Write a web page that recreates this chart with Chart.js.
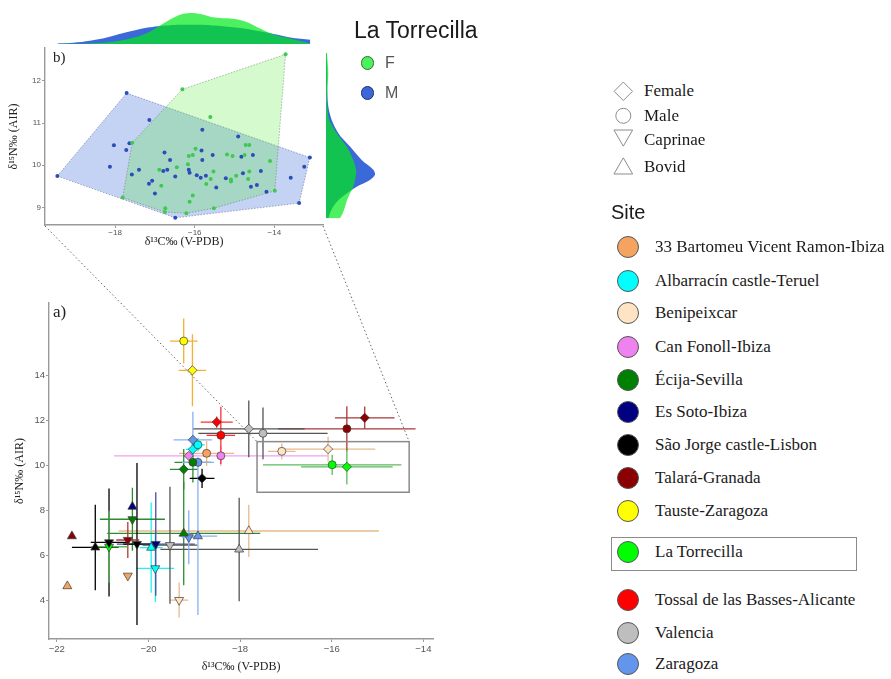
<!DOCTYPE html>
<html>
<head>
<meta charset="utf-8">
<script src="https://cdn.jsdelivr.net/npm/chart.js@4.4.1/dist/chart.umd.min.js"></script>
<style>
  body { margin: 0; width: 891px; height: 679px; background: #fff; position: relative; overflow: hidden; }
  canvas { position: absolute; }
  .txt { position: absolute; white-space: nowrap; line-height: 24px; height: 24px; }
  .serif { font-family: "Liberation Serif", "Times New Roman", serif; color: #1a1a1a; font-size: 17px; }
  .sans { font-family: "Liberation Sans", Arial, sans-serif; color: #1a1a1a; }
  .dot { position: absolute; border-radius: 50%; box-sizing: border-box; }
</style>
</head>
<body>
<canvas id="densTop" width="330" height="46" style="left:0;top:0"></canvas>
<canvas id="inset" width="330" height="222" style="left:0;top:40px"></canvas>
<canvas id="densRight" width="60" height="222" style="left:323px;top:40px"></canvas>
<canvas id="main" width="445" height="454" style="left:0;top:225px"></canvas>
<canvas id="shapeKey" width="40" height="110" style="left:603px;top:75px"></canvas>
<div id="legend"></div>
<script>
// ---- panneau a) : moyennes par site ----
const sites = ['33 Bartomeu Vicent Ramon-Ibiza', 'Albarracín castle-Teruel', 'Benipeixcar', 'Can Fonoll-Ibiza',
  'Écija-Sevilla', 'Es Soto-Ibiza', 'São Jorge castle-Lisbon', 'Talará-Granada', 'Tauste-Zaragoza',
  'La Torrecilla', 'Tossal de las Basses-Alicante', 'Valencia', 'Zaragoza'];
const siteColors = ['#F4A460', '#00FFFF', '#FFE4C4', '#EE82EE', '#008000', '#000080', '#000000',
  '#8B0000', '#FFFF00', '#00FF00', '#FF0000', '#BEBEBE', '#6495ED'];
const errColors = ['#F4B183', '#22F0F0', '#E8B98C', '#F0A0F0', '#2E8B2E', '#4A4AA0', '#000000',
  '#A83838', '#F2B035', '#5DBB5D', '#FF3030', '#555555', '#8AB0F0'];

// F = femme, M = homme, C = caprinés, B = bovidés
const pointSite = [0, 0, 0, 1, 1, 1, 1, 2, 2, 2, 2, 3, 3, 4, 4, 4, 4, 5, 5, 6, 6, 6, 6,
  7, 7, 7, 7, 8, 8, 9, 9, 9, 10, 10, 11, 11, 11, 11, 12, 12, 12, 12];
const pointType = ['M', 'B', 'C', 'M', 'F', 'B', 'C', 'M', 'F', 'B', 'C', 'M', 'F', 'F', 'M', 'B', 'C', 'C', 'B', 'F', 'B', 'C', 'C',
  'M', 'F', 'B', 'C', 'M', 'F', 'M', 'F', 'C', 'F', 'M', 'F', 'M', 'C', 'B', 'F', 'M', 'B', 'C'];
const d13C = [-18.73, -21.77, -20.45, -18.92, -19.03, -19.94, -19.85, -17.09, -16.08, -17.81, -19.33, -18.42, -19.12,
  -19.23, -19.03, -19.23, -20.35, -19.84, -20.35, -18.83, -21.16, -20.86, -20.25,
  -15.67, -15.28, -21.67, -20.45, -19.23, -19.04, -15.99, -15.67, -20.86, -18.51, -18.42,
  -17.81, -17.50, -19.53, -18.02, -19.03, -18.92, -18.92, -19.12];
const d15N = [10.52, 4.62, 5.08, 10.90, 10.70, 6.33, 5.41, 10.61, 10.71, 7.07, 4.00, 10.41, 10.41,
  9.81, 10.12, 6.96, 7.59, 6.49, 8.15, 9.41, 6.34, 6.56, 6.49,
  11.61, 12.10, 6.84, 6.67, 15.51, 14.21, 10.01, 9.92, 6.37, 11.91, 11.32,
  11.61, 11.41, 6.44, 6.25, 11.12, 10.12, 6.84, 6.79];
const sdC = [0.60, 0, 0, 0.15, 0.15, 0.25, 0.41, 0.30, 1.03, 2.84, 0.20, 2.33, 0.10,
  0.30, 0.40, 1.67, 0.71, 0.85, 0, 0.27, 0.51, 0.40, 0.30,
  1.50, 0.65, 0, 0.25, 0.30, 0.30, 1.51, 1.00, 0.40, 0.35, 0.31,
  1.22, 1.41, 0.60, 1.72, 0.42, 0.35, 0.42, 0.15];
const sdN = [0.55, 0, 0, 0.30, 0.20, 2.00, 1.50, 0.35, 0.55, 1.16, 0.78, 0.45, 0.10,
  0.90, 0.90, 2.30, 1.40, 2.30, 0, 0.43, 1.90, 2.40, 3.60,
  1.00, 0.50, 0, 0.80, 1.00, 1.60, 0.45, 0.78, 1.60, 0.25, 1.27,
  1.26, 1.15, 2.60, 2.30, 1.25, 0.20, 3.50, 1.20];
const mainXTicks = [-22, -20, -18, -16, -14];
const mainYTicks = [4, 6, 8, 10, 12, 14];
// rectangle du zoom sur La Torrecilla
const zoomBoxC = [-17.63, -14.31];
const zoomBoxN = [8.79, 11.04];

// ---- panneau b) : La Torrecilla, individus ----
const maleC = [-19.45, -17.71, -17.14, -18.03, -17.64, -17.72, -18.13, -17.58, -17.40, -16.76, -16.62, -16.79, -16.69, -17.07,
  -17.15, -17.00, -16.49, -16.15, -16.13, -15.95, -15.85, -15.72, -15.81, -15.83, -15.81, -15.55, -15.46, -15.22,
  -14.91, -14.83, -14.79, -14.54, -14.59, -14.44, -14.34, -14.20, -13.59, -13.25, -13.11, -13.38, -16.49];
const maleN = [9.74, 11.71, 11.07, 10.47, 10.52, 10.36, 9.96, 9.78, 9.89, 10.30, 10.12, 9.86, 9.89, 9.63,
  9.56, 9.33, 9.73, 9.89, 9.82, 9.76, 9.70, 9.75, 10.84, 10.35, 10.12, 10.24, 9.47, 9.69,
  10.68, 10.20, 9.81, 10.24, 9.49, 9.53, 9.86, 9.37, 9.70, 9.96, 10.18, 9.10, 8.75];
const femaleC = [-13.72, -16.31, -15.61, -17.57, -15.98, -16.15, -16.05, -16.17, -16.45, -16.89, -16.84, -16.05, -16.13,
  -16.74, -16.75, -16.21, -17.81, -15.52, -15.53, -15.60, -15.71, -15.19, -15.05, -15.09, -15.09, -14.96,
  -14.72, -14.63, -14.75, -14.63, -14.66, -14.11, -13.99];
const femaleN = [12.63, 11.80, 11.14, 10.53, 10.39, 10.22, 10.24, 10.02, 9.95, 9.89, 9.51, 9.28, 9.13,
  8.98, 8.89, 8.86, 9.23, 8.98, 9.85, 9.67, 9.55, 10.25, 10.22, 9.66, 9.61, 9.75,
  10.48, 10.48, 10.24, 9.85, 9.67, 10.10, 9.39];
const maleHull = [0, 1, 38, 39, 40];
const femaleHull = [1, 0, 32, 17, 15, 14, 16, 3];
const insetXTicks = [-18, -16, -14];
const insetYTicks = [9, 10, 11, 12];

// densités marginales
const densCgrid = [-19.45, -19.05, -18.63, -18.21, -17.79, -17.37, -17.12, -16.87, -16.62, -16.37, -16.12,
  -15.86, -15.61, -15.36, -15.11, -14.86, -14.61, -14.36, -14.02, -13.60, -13.10];
const densC_M = [0.006, 0.013, 0.033, 0.066, 0.11, 0.15, 0.167, 0.18, 0.188, 0.193, 0.193,
  0.193, 0.188, 0.18, 0.17, 0.16, 0.146, 0.127, 0.10, 0.066, 0.043];
const densC_F = [0, 0.002, 0.006, 0.015, 0.04, 0.083, 0.125, 0.185, 0.245, 0.293, 0.31,
  0.30, 0.273, 0.26, 0.255, 0.24, 0.206, 0.155, 0.095, 0.055, 0.006];
const densNgrid = [12.66, 12.18, 11.79, 11.39, 11.07, 10.76, 10.44, 10.12, 9.89, 9.77, 9.65,
  9.49, 9.33, 9.17, 9.01, 8.86, 8.74];
const densN_M = [0.005, 0.013, 0.013, 0.023, 0.057, 0.123, 0.24, 0.357, 0.473, 0.49, 0.44,
  0.307, 0.207, 0.123, 0.07, 0.04, 0.025];
const densN_F = [0.01, 0.023, 0.013, 0.013, 0.033, 0.107, 0.207, 0.273, 0.30, 0.30, 0.29,
  0.273, 0.24, 0.21, 0.19, 0.167, 0.14];

// ---- réglages communs ----
Chart.defaults.animation = false;
Chart.defaults.plugins.legend.display = false;
Chart.defaults.plugins.tooltip.enabled = false;
const axisGrey = '#9a9a9a';
const fmt = v => (v < 0 ? '\u2212' + Math.abs(v) : String(v));

function axis(min, max, tickVals, size, title, fitProp, fitVal, titlePad, tickPad) {
  return {
    type: 'linear', min: min, max: max,
    afterBuildTicks: s => { s.ticks = tickVals.map(v => ({ value: v })); },
    afterFit: s => { s[fitProp] = fitVal; },
    grid: { display: true, drawOnChartArea: false, drawTicks: true, tickLength: 3, color: axisGrey, lineWidth: 1 },
    border: { display: true, color: axisGrey, width: 1.4 },
    ticks: { color: '#555', font: { family: 'Liberation Sans', size: size }, padding: tickPad,
      autoSkip: false, maxRotation: 0, callback: v => fmt(v) },
    title: { display: true, text: title, color: '#222', font: { family: 'Liberation Serif', size: 12 }, padding: titlePad }
  };
}

// ---- b) encart ----
const toPts = (cs, ns, idx) => idx.map(i => ({ x: cs[i], y: ns[i] }));
const allIdx = a => a.map((_, i) => i);

const insetChart = new Chart(document.getElementById('inset'), {
  type: 'scatter',
  data: {
    datasets: [
      { type: 'line', data: toPts(maleC, maleN, maleHull.concat([maleHull[0]])), fill: 'shape', order: 4,
        backgroundColor: 'rgba(59,106,216,0.3)', borderColor: 'rgba(70,80,130,0.6)', borderWidth: 0.8,
        borderDash: [1.5, 1.5], pointRadius: 0, tension: 0 },
      { type: 'line', data: toPts(femaleC, femaleN, femaleHull.concat([femaleHull[0]])), fill: 'shape', order: 3,
        backgroundColor: 'rgba(60,230,30,0.22)', borderColor: 'rgba(90,110,90,0.6)', borderWidth: 0.8,
        borderDash: [1.5, 1.5], pointRadius: 0, tension: 0 },
      { data: toPts(maleC, maleN, allIdx(maleC)), order: 2, pointRadius: 2, backgroundColor: '#2b4db8', borderWidth: 0 },
      { data: toPts(femaleC, femaleN, allIdx(femaleC)), order: 1, pointRadius: 2, backgroundColor: '#3fc951', borderWidth: 0 }
    ]
  },
  options: {
    responsive: false, devicePixelRatio: 1,
    layout: { padding: { top: 8, right: 7, left: 0, bottom: 0 } },
    scales: {
      x: axis(-19.76, -12.78, insetXTicks, 8, 'δ¹³C‰ (V-PDB)', 'height', 37, { top: 0, bottom: 13 }, 0),
      y: axis(8.58, 12.78, insetYTicks, 8, 'δ¹⁵N‰ (AIR)', 'width', 45, { top: 6.8, bottom: 0 }, 1)
    }
  },
  plugins: [{
    id: 'panelB',
    afterDraw(chart) {
      const { ctx, chartArea } = chart;
      ctx.save();
      ctx.font = '15px "Liberation Serif"';
      ctx.fillStyle = '#222';
      ctx.textBaseline = 'middle';
      ctx.fillText('b)', chartArea.left + 8, chartArea.top + 10);
      ctx.restore();
    }
  }]
});

// densité en haut (δ13C)
new Chart(document.getElementById('densTop'), {
  type: 'line',
  data: {
    datasets: [
      { data: densCgrid.map((c, i) => ({ x: c, y: densC_M[i] })), fill: 'origin', order: 2,
        backgroundColor: '#3c69d8', borderWidth: 0, pointRadius: 0, tension: 0.3 },
      { data: densCgrid.map((c, i) => ({ x: c, y: densC_F[i] })), fill: 'origin', order: 1,
        backgroundColor: 'rgba(2,233,25,0.7)', borderWidth: 0, pointRadius: 0, tension: 0.3 }
    ]
  },
  options: {
    responsive: false, devicePixelRatio: 1,
    layout: { padding: { top: 10, right: 7, left: 45, bottom: 2 } },
    scales: {
      x: { type: 'linear', min: -19.76, max: -12.78, display: false },
      y: { type: 'linear', min: 0, max: 0.34, display: false }
    }
  }
});

// densité à droite (δ15N)
new Chart(document.getElementById('densRight'), {
  type: 'line',
  data: {
    datasets: [
      { data: densNgrid.map((n, i) => ({ x: densN_M[i], y: n })), fill: 'origin', order: 2,
        backgroundColor: '#3c69d8', borderWidth: 0, pointRadius: 0, tension: 0.3 },
      { data: densNgrid.map((n, i) => ({ x: densN_F[i], y: n })), fill: 'origin', order: 1,
        backgroundColor: 'rgba(2,233,25,0.7)', borderWidth: 0, pointRadius: 0, tension: 0.3 }
    ]
  },
  options: {
    indexAxis: 'y',
    responsive: false, devicePixelRatio: 1,
    layout: { padding: { top: 8, right: 0, left: 3, bottom: 37 } },
    scales: {
      x: { type: 'linear', min: 0, max: 0.57, display: false },
      y: { type: 'linear', min: 8.58, max: 12.78, display: false }
    }
  }
});

// ---- a) graphique principal ----
const shapeStyle = { F: 'rectRot', M: 'circle', C: 'triangle', B: 'triangle' };
const shapeRadius = { F: 4.6, M: 4, C: 5.2, B: 5.2 };

const errorBars = {
  id: 'errorBars',
  beforeDatasetsDraw(chart) {
    const { ctx, chartArea, scales: { x, y } } = chart;
    ctx.save();
    ctx.beginPath();
    ctx.rect(chartArea.left, chartArea.top, chartArea.right - chartArea.left, chartArea.bottom - chartArea.top);
    ctx.clip();
    ctx.lineWidth = 1.3;
    d13C.forEach((c, i) => {
      const n = d15N[i];
      ctx.strokeStyle = errColors[pointSite[i]];
      ctx.beginPath();
      if (sdC[i] > 0) {
        ctx.moveTo(x.getPixelForValue(c - sdC[i]), y.getPixelForValue(n));
        ctx.lineTo(x.getPixelForValue(c + sdC[i]), y.getPixelForValue(n));
      }
      if (sdN[i] > 0) {
        ctx.moveTo(x.getPixelForValue(c), y.getPixelForValue(n - sdN[i]));
        ctx.lineTo(x.getPixelForValue(c), y.getPixelForValue(n + sdN[i]));
      }
      ctx.stroke();
    });
    ctx.restore();
  }
};

const zoomBox = {
  id: 'zoomBox',
  afterDatasetsDraw(chart) {
    const { ctx, chartArea, scales: { x, y } } = chart;
    const x0 = x.getPixelForValue(zoomBoxC[0]), x1 = x.getPixelForValue(zoomBoxC[1]);
    const y0 = y.getPixelForValue(zoomBoxN[0]), y1 = y.getPixelForValue(zoomBoxN[1]);
    ctx.save();
    ctx.strokeStyle = '#8a8a8a';
    ctx.lineWidth = 1.5;
    ctx.strokeRect(x0, y1, x1 - x0, y0 - y1);
    // liens en pointillés vers l'encart b)
    const ia = insetChart.chartArea;
    const dx = insetChart.canvas.offsetLeft - chart.canvas.offsetLeft;
    const dy = insetChart.canvas.offsetTop - chart.canvas.offsetTop;
    ctx.strokeStyle = '#666';
    ctx.lineWidth = 1;
    ctx.setLineDash([1.5, 2.5]);
    ctx.beginPath();
    ctx.moveTo(ia.left + dx, ia.bottom + dy + 1);
    ctx.lineTo(x0, y1);
    ctx.moveTo(ia.right + dx, ia.bottom + dy + 1);
    ctx.lineTo(x1, y1);
    ctx.stroke();
    ctx.setLineDash([]);
    ctx.font = '17px "Liberation Serif"';
    ctx.fillStyle = '#222';
    ctx.textBaseline = 'middle';
    ctx.fillText('a)', chartArea.left + 4, chartArea.top + 10);
    ctx.restore();
  }
};

new Chart(document.getElementById('main'), {
  type: 'scatter',
  data: {
    datasets: d13C.map((c, i) => ({
      data: [{ x: c, y: d15N[i] }],
      pointStyle: shapeStyle[pointType[i]],
      pointRotation: pointType[i] === 'C' ? 180 : 0,
      pointRadius: shapeRadius[pointType[i]],
      backgroundColor: siteColors[pointSite[i]],
      borderColor: '#3a3a3a',
      borderWidth: 0.7
    }))
  },
  options: {
    responsive: false, devicePixelRatio: 1,
    layout: { padding: { top: 78, right: 12, left: 0, bottom: 0 } },
    scales: {
      x: axis(-22.17, -13.79, mainXTicks, 9.5, 'δ¹³C‰ (V-PDB)', 'height', 40, { top: 0, bottom: 4.8 }, 2),
      y: axis(2.27, 17.2, mainYTicks, 9.5, 'δ¹⁵N‰ (AIR)', 'width', 49, { top: 12.8, bottom: 0 }, 1)
    }
  },
  plugins: [errorBars, zoomBox]
});

// ---- légendes ----
const legend = document.getElementById('legend');
function addText(cls, text, left, cy, extra) {
  const d = document.createElement('div');
  d.className = 'txt ' + cls;
  d.textContent = text;
  d.style.left = left + 'px';
  d.style.top = (cy - 12) + 'px';
  if (extra) Object.assign(d.style, extra);
  legend.appendChild(d);
}
function addDot(cx, cy, r, fill, border) {
  const d = document.createElement('div');
  d.className = 'dot';
  Object.assign(d.style, { left: (cx - r) + 'px', top: (cy - r) + 'px', width: 2 * r + 'px', height: 2 * r + 'px',
    background: fill, border: '1px solid ' + border });
  legend.appendChild(d);
}

// légende de l'encart
addText('sans', 'La Torrecilla', 354, 30, { fontSize: '23px' });
addDot(367.5, 63, 6.7, '#4cef5c', '#2f6a2f');
addText('sans', 'F', 385, 63, { fontSize: '16px', color: '#555' });
addDot(367.5, 93, 6.7, '#3b66d8', '#1f2f66');
addText('sans', 'M', 385, 93, { fontSize: '16px', color: '#555' });

// légende des formes
const shapeLabels = ['Female', 'Male', 'Caprinae', 'Bovid'];
const shapeRowY = [90.7, 115.7, 140, 166.7];
shapeLabels.forEach((t, i) => addText('serif', t, 644, shapeRowY[i]));
const sk = document.getElementById('shapeKey').getContext('2d');
sk.strokeStyle = '#8c8c8c';
sk.fillStyle = '#ffffff';
const keyShapes = [
  { pointStyle: 'rectRot', rotation: 0, radius: 9.2, borderWidth: 1, cy: 16.3 },
  { pointStyle: 'circle', rotation: 0, radius: 7.5, borderWidth: 1, cy: 40.8 },
  { pointStyle: 'triangle', rotation: 180, radius: 10.8, borderWidth: 1, cy: 60.4 },
  { pointStyle: 'triangle', rotation: 0, radius: 10.8, borderWidth: 1, cy: 93.6 }
];
keyShapes.forEach(s => Chart.helpers.drawPoint(sk, s, 20.3, s.cy));

// légende des sites
addText('sans', 'Site', 611, 212, { fontSize: '20px' });
const siteRowY = [247, 280.5, 313, 346.5, 380, 412, 445, 478, 511, 552.3, 600, 632.5, 664];
sites.forEach((s, i) => {
  addDot(627.7, siteRowY[i], 11, siteColors[i], '#555');
  addText('serif', s, 655, siteRowY[i]);
});
const box = document.createElement('div');
Object.assign(box.style, { position: 'absolute', left: '611px', top: '537px', width: '244px', height: '32px',
  border: '1px solid #8a8a8a' });
legend.appendChild(box);
</script>
</body>
</html>
